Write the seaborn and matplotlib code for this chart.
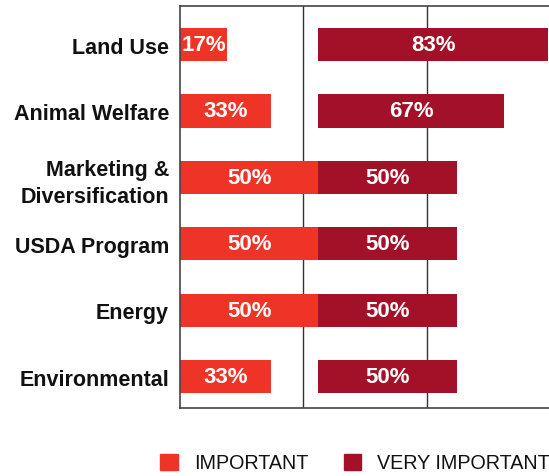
import matplotlib
matplotlib.use("Agg")
import matplotlib.pyplot as plt
from matplotlib.patches import Patch
import pandas as pd
import seaborn as sns

categories = ["Land Use", "Animal Welfare", "Marketing &\nDiversification",
              "USDA Program", "Energy", "Environmental"]
important = [17, 33, 50, 50, 50, 33]
very_important = [83, 67, 50, 50, 50, 50]
series_names = ["IMPORTANT", "VERY IMPORTANT"]

VI_START = 50
RED = "#EE3327"
DARK_RED = "#A31128"

sns.set_theme(style="white")
plt.rcParams["font.family"] = ["Liberation Sans Narrow", "Liberation Sans", "DejaVu Sans"]

df = pd.DataFrame({"category": categories, "important": important,
                   "very_important": very_important})

fig = plt.figure(figsize=(5.49, 4.77), dpi=100)
ax = fig.add_axes([180 / 549, 1 - 409 / 477, 1 - 180 / 549 + 0.002, (409 - 7) / 477])

sns.barplot(data=df, x="important", y="category", order=categories, orient="h",
            color=RED, saturation=1, width=0.5, ax=ax, edgecolor="none")
ax.barh(range(len(categories)), df["very_important"], left=VI_START, height=0.5,
        color=DARK_RED, edgecolor="none")

for i, row in df.iterrows():
    ax.text(row["important"] / 2, i, f"{row['important']}%", ha="center", va="center",
            color="white", fontsize=16, fontweight="bold")
    ax.text(VI_START + row["very_important"] / 2, i, f"{row['very_important']}%",
            ha="center", va="center", color="white", fontsize=16, fontweight="bold")

xmax = 133.7
ax.set_xlim(0, xmax)
ax.set_ylim(5.47, -0.58)
for gx in [xmax / 3, 2 * xmax / 3]:
    ax.axvline(gx, color="#333333", linewidth=1, zorder=0)

ax.set_xticks([])
ax.set_xlabel("")
ax.set_ylabel("")
ax.tick_params(axis="y", length=0, pad=8)
for lab in ax.get_yticklabels():
    lab.set_fontsize(15.5)
    lab.set_fontweight("bold")
    lab.set_color("#111111")
    lab.set_linespacing(1.35)

for side in ["left", "top", "bottom"]:
    ax.spines[side].set_color("#444444")
    ax.spines[side].set_linewidth(1.2)
ax.spines["right"].set_visible(False)

handles = [Patch(color=RED, label=series_names[0]),
           Patch(color=DARK_RED, label=series_names[1])]
fig.legend(handles=handles, loc="center", bbox_to_anchor=(355 / 549, 1 - 464 / 477),
           ncol=2, frameon=False, fontsize=14.2, handlelength=0.9, handleheight=0.9,
           handletextpad=0.8, columnspacing=1.8, labelcolor="#111111")

fig.savefig("out.png", dpi=100)
